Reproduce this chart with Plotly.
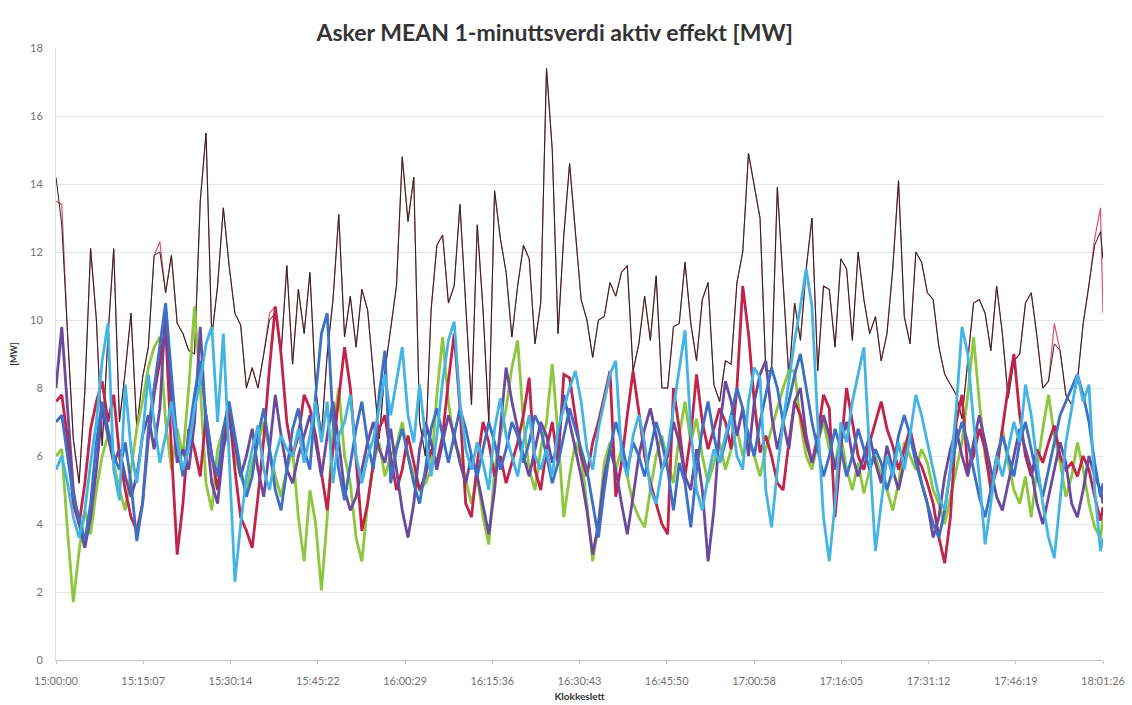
import pandas as pd
import plotly.graph_objects as go

# One sample per minute from 15:00 to 18:01, plus the closing sample at 18:01:26
times = list(pd.date_range("2010-01-01 15:00:00", periods=182, freq="60s"))
times.append(pd.Timestamp("2010-01-01 18:01:26"))

tick_labels = ["15:00:00", "15:15:07", "15:30:14", "15:45:22", "16:00:29", "16:15:36",
               "16:30:43", "16:45:50", "17:00:58", "17:16:05", "17:31:12", "17:46:19", "18:01:26"]
tick_times = pd.to_datetime(["2010-01-01 " + t for t in tick_labels])

# Total feeder load (black) and its twin measurement (pink)
total_black = [
    14.2, 12.8, 9.6, 6.5, 5.2, 7.9, 12.1, 10.0, 6.3, 9.5, 12.1,
    7.0, 8.5, 10.2, 6.8, 8.3, 9.2, 11.9, 12.0, 10.8, 11.9,
    9.9, 9.6, 9.1, 9.0, 13.5, 15.5, 9.5, 11.0, 13.3, 11.6,
    10.2, 9.85, 8.0, 8.6, 8.0, 9.0, 10.0, 10.2, 9.0, 11.6,
    8.7, 10.9, 9.6, 11.4, 8.0, 6.6, 9.0, 10.6, 13.1, 9.5,
    10.7, 9.2, 10.9, 10.3, 8.5, 6.5, 8.5, 9.8, 11.0, 14.8,
    12.9, 14.2, 7.0, 6.0, 10.3, 12.2, 12.5, 10.5, 11.0, 13.4,
    10.5, 7.5, 12.8, 10.3, 7.0, 13.8, 12.4, 11.4, 9.5, 11.0,
    12.2, 11.8, 9.3, 10.5, 17.4, 15.0, 9.6, 12.5, 14.6, 12.5,
    10.6, 10.0, 8.9, 10.0, 10.1, 11.1, 10.7, 11.4, 11.6, 8.5,
    9.3, 10.7, 9.4, 11.3, 8.0, 8.0, 9.8, 9.9, 11.7, 9.9,
    8.8, 10.6, 11.1, 8.1, 7.6, 8.8, 8.7, 11.1, 12.0, 14.9,
    14.0, 13.0, 8.5, 8.5, 13.9, 11.0, 8.3, 10.5, 9.4, 11.5,
    13.0, 8.5, 11.0, 10.9, 9.2, 11.8, 11.5, 9.4, 12.0, 10.6,
    9.6, 10.1, 8.8, 9.6, 11.5, 14.1, 10.1, 9.3, 12.0, 11.7,
    10.8, 10.6, 9.2, 8.4, 8.1, 7.8, 7.1, 8.8, 10.5, 10.6,
    10.2, 9.1, 11.0, 9.6, 7.7, 8.8, 9.0, 10.5, 10.8, 9.5,
    8.0, 8.2, 9.3, 9.1, 7.8, 7.5, 8.2, 9.9, 11.0, 12.2,
    12.6, 11.8,
]
total_pink = [
    13.5, 13.4, 9.6, 6.5, 5.2, 7.9, 12.1, 10.0, 6.3, 9.5, 12.1,
    7.0, 8.5, 10.2, 6.8, 8.3, 9.2, 11.9, 12.3, 10.8, 11.9,
    9.9, 9.6, 9.1, 9.0, 13.5, 15.5, 9.5, 11.0, 13.3, 11.6,
    10.2, 9.85, 8.0, 8.6, 8.0, 9.0, 10.2, 10.4, 9.0, 11.6,
    8.7, 10.9, 9.6, 11.4, 8.0, 6.6, 9.0, 10.6, 13.1, 9.5,
    10.7, 9.2, 10.9, 10.3, 8.5, 6.5, 8.5, 9.8, 11.0, 14.8,
    12.9, 14.2, 7.0, 6.0, 10.3, 12.2, 12.5, 10.5, 11.0, 13.4,
    10.5, 7.5, 12.8, 10.3, 7.0, 13.8, 12.4, 11.4, 9.5, 11.0,
    12.2, 11.8, 9.3, 10.5, 17.4, 15.0, 9.6, 12.5, 14.6, 12.5,
    10.6, 10.0, 8.9, 10.0, 10.1, 11.1, 10.7, 11.4, 11.6, 8.5,
    9.3, 10.7, 9.4, 11.3, 8.0, 8.0, 9.8, 9.9, 11.7, 9.9,
    8.8, 10.6, 11.1, 8.1, 7.6, 8.8, 8.7, 11.1, 12.0, 14.9,
    14.0, 13.0, 8.5, 8.5, 13.9, 11.0, 8.3, 10.5, 9.4, 11.5,
    13.0, 8.5, 11.0, 10.9, 9.2, 11.8, 11.5, 9.4, 12.0, 10.6,
    9.6, 10.1, 8.8, 9.6, 11.5, 14.1, 10.1, 9.3, 12.0, 11.7,
    10.8, 10.6, 9.2, 8.4, 8.1, 7.8, 7.1, 8.8, 10.5, 10.6,
    10.2, 9.1, 11.0, 9.6, 7.7, 8.8, 9.0, 10.5, 10.8, 9.5,
    8.0, 8.2, 9.9, 9.1, 7.8, 7.5, 8.2, 9.9, 11.0, 12.4,
    13.3, 10.2,
]

# Individual feeders
feeder_red = [
    7.6, 7.8, 6.5, 4.6, 4.0, 5.2, 6.8, 7.6, 8.2, 7.0, 7.8,
    6.0, 5.0, 4.2, 3.8, 4.6, 6.5, 7.8, 8.8, 9.8, 6.2,
    3.1, 4.6, 6.8, 6.2, 5.4, 7.2, 6.0, 5.0, 6.4, 7.4,
    5.6, 4.2, 3.8, 3.3, 4.8, 6.5, 8.6, 10.4, 9.0, 7.0,
    6.0, 6.6, 7.8, 7.4, 6.6, 5.5, 4.4, 6.2, 7.8, 9.2,
    8.0, 6.0, 3.8, 4.6, 5.8, 6.8, 7.2, 6.0, 5.0, 5.6,
    6.6, 5.8, 5.0, 5.4, 6.2, 5.8, 6.6, 8.2, 9.6, 7.4,
    4.6, 4.2, 5.8, 7.0, 6.4, 5.4, 6.0, 5.2, 5.8, 6.4,
    7.2, 8.3, 5.6, 5.0, 6.2, 7.0, 5.8, 8.4, 8.3, 7.2,
    6.0, 5.4, 6.4, 7.0, 7.8, 8.5, 4.8, 5.8, 7.2, 8.5,
    7.3, 6.0, 5.2, 4.6, 4.0, 3.7, 8.0, 6.8, 5.4, 6.6,
    8.4, 7.0, 6.2, 6.8, 7.4, 7.0, 6.2, 8.0, 11.0, 9.6,
    7.6, 6.1, 6.6, 6.0, 5.2, 5.0, 6.4, 7.6, 7.2, 6.4,
    5.8, 6.6, 7.8, 7.4, 4.2, 6.2, 8.0, 7.0, 6.0, 5.6,
    6.4, 7.0, 7.6, 6.8, 6.3, 5.6, 6.2, 6.8, 6.0, 5.7,
    5.2, 4.6, 3.6, 2.85, 4.2, 7.0, 7.8, 5.6, 6.0, 6.8,
    6.2, 5.0, 5.6, 6.8, 8.0, 9.0, 7.2, 6.0, 5.4, 6.2,
    5.8, 6.4, 6.9, 6.0, 5.6, 5.8, 5.4, 6.0, 5.6, 4.8,
    4.1, 4.5,
]
feeder_green = [
    6.0, 6.2, 3.8, 1.7, 3.2, 4.4, 3.7, 5.0, 6.0, 6.6, 5.8,
    5.0, 4.4, 5.6, 6.8, 7.6, 8.6, 9.2, 9.5, 7.0, 5.6,
    6.8, 6.0, 8.0, 10.4, 8.0, 5.2, 4.4, 6.2, 6.8, 7.2,
    6.0, 5.4, 5.0, 5.8, 6.4, 7.0, 6.2, 5.4, 4.8, 5.6,
    6.2, 4.2, 2.9, 5.0, 4.0, 2.05, 4.2, 6.8, 8.0, 6.0,
    5.2, 3.6, 2.9, 4.6, 5.8, 6.4, 5.4, 6.0, 6.3, 7.0,
    6.0, 5.4, 5.0, 5.2, 5.6, 7.8, 9.5, 7.6, 6.4, 6.0,
    5.3, 4.6, 5.4, 4.2, 3.4, 5.6, 6.6, 7.4, 8.6, 9.4,
    7.0, 5.6, 5.0, 6.2, 7.0, 8.7, 6.6, 4.2, 5.4, 6.4,
    6.0, 4.6, 2.9, 4.0, 5.8, 6.4, 5.6, 6.2, 5.4, 4.6,
    4.2, 3.9, 5.0, 6.0, 6.6, 5.8, 5.2, 6.6, 7.6, 6.4,
    7.1, 6.0, 5.2, 5.8, 6.4, 5.6, 6.2, 6.8, 6.0, 6.6,
    6.0, 5.4, 6.2, 6.8, 7.4, 8.0, 8.5, 8.5, 7.0, 6.0,
    5.6, 6.4, 7.0, 6.2, 5.8, 6.6, 5.6, 5.0, 5.8, 4.9,
    5.6, 6.0, 5.4, 5.0, 4.4, 5.2, 6.4, 6.0, 5.6, 6.2,
    5.8, 5.0, 4.6, 4.0, 4.8, 5.6, 6.4, 7.8, 9.5, 7.6,
    6.0, 5.2, 5.6, 6.8, 5.8, 5.0, 4.6, 5.4, 4.2, 5.6,
    6.8, 7.8, 6.6, 5.8, 4.8, 5.4, 6.4, 5.6, 4.6, 3.9,
    3.6, 4.2,
]
feeder_purple = [
    8.0, 9.8, 7.4, 5.0, 4.0, 3.3, 4.2, 5.6, 7.4, 6.6, 5.8,
    6.2, 5.4, 4.8, 5.4, 6.6, 7.2, 6.2, 7.4, 10.3, 7.6,
    5.8, 6.2, 5.6, 7.0, 9.8, 6.8, 5.2, 4.6, 6.2, 7.0,
    6.4, 5.4, 6.0, 6.8, 5.6, 4.8, 6.2, 7.8, 6.6, 5.6,
    5.2, 6.0, 6.6, 7.2, 6.4, 5.4, 6.6, 7.6, 6.4, 5.0,
    4.4, 4.8, 5.6, 6.4, 7.0, 6.2, 5.8, 6.8, 5.6, 4.4,
    3.6, 4.6, 6.2, 7.0, 6.4, 5.6, 6.4, 7.2, 6.6, 5.8,
    5.2, 6.0, 5.4, 4.6, 3.7, 5.0, 6.8, 8.6, 7.6, 6.8,
    6.0, 5.4, 6.2, 7.0, 6.6, 5.8, 6.4, 7.8, 7.0, 6.2,
    5.4, 4.4, 3.1, 4.0, 5.4, 6.2, 5.6, 4.6, 3.7, 4.8,
    6.0, 6.8, 7.4, 6.6, 5.6, 6.0, 7.0, 6.4, 5.4, 5.0,
    6.2, 5.0, 2.9, 4.4, 6.8, 8.2, 7.6, 6.6, 7.4, 6.0,
    7.6, 8.4, 8.8, 7.2, 6.2, 7.0, 6.2, 7.6, 8.0, 6.6,
    5.8, 6.4, 7.2, 6.6, 5.6, 6.4, 7.0, 6.0, 5.4, 6.0,
    6.6, 5.8, 5.2, 6.3, 5.6, 5.0, 5.8, 6.6, 6.0, 5.2,
    4.6, 3.6, 4.2, 5.4, 6.2, 6.8, 6.0, 5.4, 6.4, 7.2,
    6.4, 5.6, 4.8, 4.4, 5.2, 6.0, 6.8, 6.2, 5.6, 4.6,
    4.0, 4.8, 5.6, 6.4, 5.8, 4.6, 4.2, 5.0, 6.0, 5.4,
    5.0, 4.6,
]
feeder_blue = [
    7.0, 7.2, 6.0, 4.8, 4.2, 3.5, 4.6, 6.4, 7.6, 6.8, 6.0,
    5.6, 6.4, 5.2, 3.5, 4.6, 6.8, 8.0, 9.2, 10.5, 8.4,
    6.4, 5.4, 6.6, 7.8, 8.8, 7.2, 6.0, 5.4, 6.8, 7.6,
    6.6, 5.6, 4.8, 5.4, 6.6, 7.4, 6.2, 5.0, 4.4, 5.6,
    6.8, 7.4, 6.2, 5.6, 7.8, 9.6, 10.2, 7.0, 5.6, 4.7,
    5.8, 6.8, 7.6, 6.4, 5.6, 7.8, 9.1, 5.2, 6.2, 6.8,
    6.0, 5.2, 4.6, 5.6, 6.8, 7.4, 6.6, 5.8, 6.6, 7.4,
    6.8, 6.0, 5.4, 6.2, 7.0, 6.4, 5.6, 6.2, 7.0, 6.6,
    5.8, 6.4, 7.2, 6.8, 6.0, 5.2, 5.8, 6.6, 7.4, 6.8,
    6.2, 5.6, 4.6, 3.6, 5.0, 6.2, 7.0, 6.4, 5.6, 6.4,
    6.0, 5.4, 6.2, 7.0, 6.4, 5.6, 4.4, 5.8, 5.2, 3.9,
    5.6, 6.8, 7.6, 6.6, 5.8, 6.4, 7.2, 8.0, 7.4, 6.6,
    6.0, 7.0, 7.8, 8.6, 8.0, 7.0, 7.6, 8.4, 9.0, 8.0,
    7.0, 6.2, 5.4, 6.0, 6.8, 6.2, 5.4, 6.0, 6.8, 6.2,
    5.6, 6.2, 5.8, 5.0, 5.6, 6.6, 7.2, 6.6, 5.8, 5.2,
    4.6, 4.0, 3.6, 4.4, 5.6, 6.4, 7.0, 6.4, 5.6, 4.8,
    4.2, 5.0, 6.0, 6.6, 6.0, 5.4, 6.4, 7.0, 6.2, 5.4,
    4.8, 5.6, 6.4, 7.2, 7.6, 8.0, 8.4, 7.8, 7.0, 5.8,
    4.8, 5.2,
]
feeder_lightblue = [
    5.6, 6.0, 5.2, 4.2, 3.6, 4.4, 5.8, 7.0, 8.8, 9.9, 5.6,
    4.7, 8.1, 6.2, 5.2, 6.6, 8.4, 7.0, 5.8, 6.6, 7.6,
    6.4, 5.6, 6.2, 7.4, 8.2, 9.3, 9.8, 7.0, 9.6, 6.0,
    2.3, 4.0, 5.4, 6.2, 6.9, 5.6, 5.0, 6.0, 6.6, 6.2,
    6.0, 6.8, 5.8, 6.6, 7.6, 6.4, 7.6, 5.2, 6.6, 7.0,
    7.8, 6.0, 5.2, 6.0, 6.5, 7.4, 8.4, 7.2, 8.2, 9.2,
    7.2, 6.4, 8.1, 6.6, 5.4, 6.6, 8.2, 9.4, 9.95, 7.6,
    6.2, 5.6, 6.4, 5.8, 5.0, 6.8, 7.7, 6.6, 6.0, 5.4,
    6.4, 7.2, 6.0, 5.6, 6.2, 5.4, 6.8, 7.4, 8.0, 8.5,
    7.6, 6.2, 5.6, 6.8, 7.6, 8.4, 8.8, 6.0, 5.4, 6.6,
    7.2, 6.4, 5.0, 4.6, 5.6, 6.2, 7.4, 8.6, 9.7, 6.8,
    5.0, 4.4, 5.4, 6.2, 5.8, 6.6, 7.2, 6.0, 5.6, 7.6,
    8.6, 8.3, 5.0, 3.9, 5.6, 7.0, 8.2, 9.4, 10.4, 11.5,
    10.4, 7.0, 4.2, 2.9, 4.6, 7.0, 6.4, 7.6, 8.4, 9.2,
    6.0, 3.2, 4.6, 6.0, 5.4, 6.4, 5.6, 6.6, 7.8, 7.2,
    6.4, 5.6, 4.8, 4.4, 5.6, 7.4, 9.8, 9.0, 7.0, 5.4,
    3.4, 4.6, 6.0, 5.4, 6.2, 7.0, 6.4, 8.1, 7.2, 5.8,
    4.6, 3.6, 3.0, 4.6, 6.4, 7.4, 8.4, 7.6, 8.1, 5.0,
    3.2, 3.6,
]

series = [
    (total_pink, "#E2506C", 1.2),
    (total_black, "#262626", 1.0),
    (feeder_green, "#8DC63F", 2.8),
    (feeder_red, "#C1234A", 2.8),
    (feeder_purple, "#6B4A9E", 2.8),
    (feeder_blue, "#3C6FC6", 2.8),
    (feeder_lightblue, "#43B4E4", 2.8),
]

fig = go.Figure()
for values, color, width in series:
    fig.add_trace(go.Scatter(x=times, y=values, mode="lines",
                             line=dict(color=color, width=width),
                             showlegend=False, hoverinfo="skip"))

font_family = "Lato, 'Open Sans', sans-serif"
axis_font = dict(family=font_family, size=11, color="#737373")

fig.update_layout(
    width=1132, height=705,
    paper_bgcolor="white", plot_bgcolor="white",
    margin=dict(l=56, r=29, t=48, b=45),
    title=dict(text="<b>Asker MEAN 1-minuttsverdi aktiv effekt [MW]</b>",
               x=0.49, xanchor="center", y=0.953, yanchor="middle",
               font=dict(family=font_family, size=23, color="#333333")),
    xaxis=dict(
        range=[tick_times[0], tick_times[-1]],
        tickmode="array", tickvals=tick_times, ticktext=tick_labels,
        showgrid=False, showline=True, linecolor="#C4C4C4", linewidth=1,
        ticks="outside", ticklen=3, tickcolor="#C4C4C4",
        ticklabelstandoff=8, automargin=False,
        tickfont=axis_font,
        title=dict(text="<b>Klokkeslett</b>", standoff=6,
                   font=dict(family=font_family, size=10, color="#333333")),
    ),
    yaxis=dict(
        range=[0, 18], tickmode="linear", tick0=0, dtick=2,
        showgrid=True, gridcolor="#E6E6E6", gridwidth=1,
        showline=True, linecolor="#E0E0E0", zeroline=False,
        ticks="", tickfont=axis_font, ticklabelstandoff=10, automargin=False,
        title=dict(text="<b>[MW]</b>", standoff=10,
                   font=dict(family=font_family, size=9, color="#333333")),
    ),
)

fig.write_html("out.html")
